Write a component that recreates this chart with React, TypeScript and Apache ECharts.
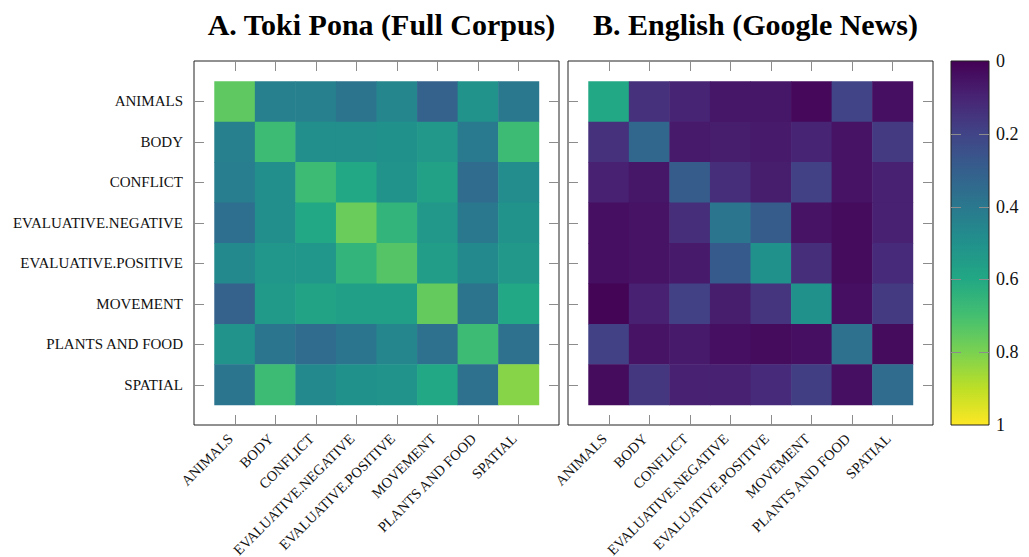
import React, { useEffect, useRef } from "react";
import * as echarts from "echarts";

const categories = [
  "ANIMALS",
  "BODY",
  "CONFLICT",
  "EVALUATIVE.NEGATIVE",
  "EVALUATIVE.POSITIVE",
  "MOVEMENT",
  "PLANTS AND FOOD",
  "SPATIAL",
];

// rows = y categories (top to bottom), columns = x categories (left to right)
const tokiPonaRows = [
  [0.75, 0.43, 0.43, 0.38, 0.46, 0.31, 0.51, 0.40],
  [0.43, 0.68, 0.49, 0.49, 0.50, 0.53, 0.41, 0.68],
  [0.42, 0.49, 0.68, 0.60, 0.51, 0.57, 0.35, 0.48],
  [0.36, 0.49, 0.60, 0.77, 0.65, 0.53, 0.40, 0.51],
  [0.47, 0.52, 0.52, 0.65, 0.73, 0.55, 0.47, 0.53],
  [0.31, 0.54, 0.58, 0.56, 0.56, 0.76, 0.38, 0.60],
  [0.51, 0.39, 0.35, 0.39, 0.46, 0.37, 0.68, 0.37],
  [0.39, 0.68, 0.47, 0.50, 0.51, 0.60, 0.37, 0.82],
];

const englishRows = [
  [0.60, 0.14, 0.10, 0.06, 0.06, 0.02, 0.20, 0.04],
  [0.14, 0.33, 0.07, 0.08, 0.07, 0.10, 0.05, 0.17],
  [0.09, 0.06, 0.29, 0.13, 0.08, 0.19, 0.05, 0.09],
  [0.04, 0.05, 0.13, 0.39, 0.29, 0.05, 0.03, 0.09],
  [0.04, 0.05, 0.07, 0.28, 0.50, 0.13, 0.03, 0.12],
  [0.01, 0.09, 0.19, 0.08, 0.15, 0.50, 0.04, 0.17],
  [0.19, 0.05, 0.07, 0.04, 0.03, 0.04, 0.37, 0.03],
  [0.03, 0.16, 0.09, 0.09, 0.12, 0.18, 0.04, 0.35],
];

const colorbarTicks = [0, 0.2, 0.4, 0.6, 0.8, 1];
const colorbarInnerTicks = [0.2, 0.4, 0.6, 0.8];

const titles = ["A. Toki Pona (Full Corpus)", "B. English (Google News)"];

const viridis = [
  "#440154",
  "#482475",
  "#414487",
  "#355f8d",
  "#2a788e",
  "#21918c",
  "#22a884",
  "#44bf70",
  "#7ad151",
  "#bddf26",
  "#fde725",
];

const toTriples = (rows: number[][]) => {
  const out: number[][] = [];
  rows.forEach((row, y) => row.forEach((v, x) => out.push([x, y, v])));
  return out;
};

const SERIF = "Liberation Serif";
const TICK_COLOR = "#8c8c8c";
const FRAME_COLOR = "#222";
const TICK_LEN = 10;
const catIdx = categories.map((_, i) => i);

const labelFmt = (v: number) => categories[Math.round(v)] ?? "";

function panelAxes(gridIndex: number, showYLabels: boolean) {
  const common = {
    type: "value" as const,
    gridIndex,
    min: -1,
    max: 8,
    interval: 1,
    axisLine: { show: false, onZero: false },
    splitLine: { show: false },
    axisTick: { show: false },
  };
  const xAxes = [
    {
      ...common,
      position: "bottom",
      axisLabel: {
        show: true,
        customValues: catIdx,
        formatter: labelFmt,
        rotate: 45,
        margin: 7,
        padding: [0, 6, 12, 0],
        fontFamily: SERIF,
        fontSize: 14.5,
        color: "#111",
      },
    },
  ];
  const yAxes = [
    {
      ...common,
      position: "left",
      inverse: true,
      axisLabel: {
        show: showYLabels,
        customValues: catIdx,
        formatter: labelFmt,
        margin: 11,
        fontFamily: SERIF,
        fontSize: 15,
        color: "#111",
      },
    },
  ];
  return { xAxes, yAxes };
}

const renderCell = (_params: any, api: any) => {
  const c = api.coord([api.value(0), api.value(1)]);
  const s = api.size([1, 1]);
  return {
    type: "rect",
    shape: { x: c[0] - s[0] / 2, y: c[1] - s[1] / 2, width: s[0] + 0.5, height: s[1] + 0.5 },
    style: { fill: api.visual("color") },
  };
};

// draws inward ticks on all four frame edges at the category positions
const renderPanelTicks = (params: any, api: any) => {
  const cs = params.coordSys;
  const p = api.coord([api.value(0), api.value(1)]);
  const x = Math.round(p[0]) + 0.5;
  const y = Math.round(p[1]) + 0.5;
  const left = cs.x;
  const right = cs.x + cs.width;
  const top = cs.y;
  const bottom = cs.y + cs.height;
  const style = { stroke: TICK_COLOR, lineWidth: 1 };
  return {
    type: "group",
    children: [
      { type: "line", shape: { x1: x, y1: top, x2: x, y2: top + TICK_LEN }, style },
      { type: "line", shape: { x1: x, y1: bottom, x2: x, y2: bottom - TICK_LEN }, style },
      { type: "line", shape: { x1: left, y1: y, x2: left + TICK_LEN, y2: y }, style },
      { type: "line", shape: { x1: right, y1: y, x2: right - TICK_LEN, y2: y }, style },
    ],
  };
};

const renderColorbarTicks = (params: any, api: any) => {
  const cs = params.coordSys;
  const p = api.coord([0.5, api.value(1)]);
  const y = Math.round(p[1]) + 0.5;
  const left = cs.x;
  const right = cs.x + cs.width;
  const style = { stroke: TICK_COLOR, lineWidth: 1 };
  return {
    type: "group",
    children: [
      { type: "line", shape: { x1: left, y1: y, x2: left + TICK_LEN, y2: y }, style },
      { type: "line", shape: { x1: right, y1: y, x2: right - TICK_LEN, y2: y }, style },
    ],
  };
};

export default function App() {
  const ref = useRef<HTMLDivElement>(null);

  useEffect(() => {
    if (!ref.current) return;
    const chart = echarts.init(ref.current, undefined, { renderer: "svg" });

    const A = panelAxes(0, true);
    const B = panelAxes(1, false);

    const gradient = new echarts.graphic.LinearGradient(
      0,
      0,
      0,
      1,
      viridis.map((c, i) => ({ offset: i / (viridis.length - 1), color: c }))
    );

    const gridCommon = {
      show: true,
      borderColor: FRAME_COLOR,
      borderWidth: 1,
      containLabel: false,
      outerBoundsMode: "none",
    };

    chart.setOption({
      animation: false,
      backgroundColor: "#fff",
      title: [
        {
          text: titles[0],
          left: 376.5,
          top: 4,
          textAlign: "center",
          textStyle: { fontFamily: SERIF, fontWeight: "bold", fontSize: 30, color: "#000" },
        },
        {
          text: titles[1],
          left: 750.5,
          top: 4,
          textAlign: "center",
          textStyle: { fontFamily: SERIF, fontWeight: "bold", fontSize: 30, color: "#000" },
        },
      ],
      grid: [
        { ...gridCommon, left: 194, top: 61, width: 365, height: 364, backgroundColor: "transparent" },
        { ...gridCommon, left: 568, top: 61, width: 365, height: 364, backgroundColor: "transparent" },
        { ...gridCommon, left: 951, top: 61, width: 38, height: 364, backgroundColor: gradient },
      ],
      xAxis: [
        ...A.xAxes,
        ...B.xAxes,
        { type: "value", gridIndex: 2, min: 0, max: 1, show: false, axisLine: { onZero: false } },
      ],
      yAxis: [
        ...A.yAxes,
        ...B.yAxes,
        {
          type: "value",
          gridIndex: 2,
          min: 0,
          max: 1,
          interval: 0.2,
          inverse: true,
          position: "right",
          axisLine: { show: false, onZero: false },
          splitLine: { show: false },
          axisTick: { show: false },
          axisLabel: {
            show: true,
            customValues: colorbarTicks,
            margin: 7,
            fontFamily: SERIF,
            fontSize: 18,
            color: "#111",
            formatter: (v: number) => String(Math.round(v * 10) / 10),
          },
        },
      ],
      visualMap: {
        type: "continuous",
        show: false,
        min: 0,
        max: 1,
        dimension: 2,
        seriesIndex: [0, 1],
        inRange: { color: viridis },
      },
      series: [
        {
          type: "custom",
          xAxisIndex: 0,
          yAxisIndex: 0,
          renderItem: renderCell,
          data: toTriples(tokiPonaRows),
          encode: { x: 0, y: 1 },
        },
        {
          type: "custom",
          xAxisIndex: 1,
          yAxisIndex: 1,
          renderItem: renderCell,
          data: toTriples(englishRows),
          encode: { x: 0, y: 1 },
        },
        {
          type: "custom",
          xAxisIndex: 0,
          yAxisIndex: 0,
          renderItem: renderPanelTicks,
          data: catIdx.map((i) => [i, i]),
          encode: { x: 0, y: 1 },
          silent: true,
        },
        {
          type: "custom",
          xAxisIndex: 1,
          yAxisIndex: 1,
          renderItem: renderPanelTicks,
          data: catIdx.map((i) => [i, i]),
          encode: { x: 0, y: 1 },
          silent: true,
        },
        {
          type: "custom",
          xAxisIndex: 2,
          yAxisIndex: 2,
          renderItem: renderColorbarTicks,
          data: colorbarInnerTicks.map((v) => [0.5, v]),
          encode: { x: 0, y: 1 },
          silent: true,
        },
      ],
    });

    return () => chart.dispose();
  }, []);

  return (
    <div
      ref={ref}
      style={{ position: "fixed", left: 0, top: 0, width: 1029, height: 557, background: "#fff" }}
    />
  );
}
